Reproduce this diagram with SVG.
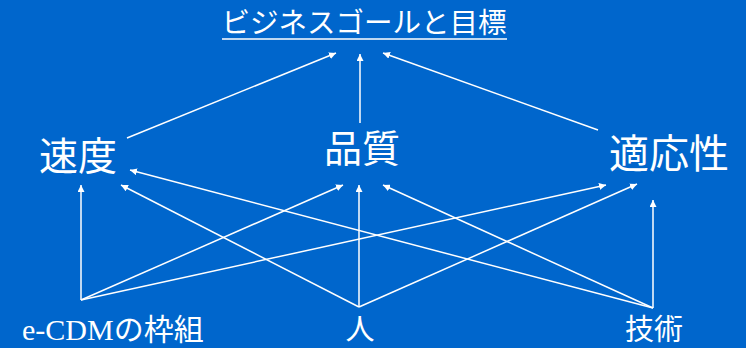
<svg xmlns="http://www.w3.org/2000/svg" width="746" height="348" viewBox="0 0 746 348">
<defs>
<marker id="ah" viewBox="0 0 10 10" refX="10" refY="5" markerWidth="7" markerHeight="7" markerUnits="userSpaceOnUse" orient="auto">
<path d="M0,0 L10,5 L0,10 z" fill="#fff"/>
</marker>
<style>
.t{fill:#fff;font-family:"Noto Sans CJK JP","Noto Sans",sans-serif;text-anchor:middle}
.s{fill:#fff;font-family:"Liberation Serif","Noto Sans CJK JP",serif}
.c line{stroke:#fff;stroke-width:1.5;marker-end:url(#ah)}
</style>
</defs>
<rect width="746" height="348" fill="#0066CC"/>
<g id="goal">
<text class="t" x="364" y="33" font-size="28.5">ビジネスゴールと目標</text>
<line x1="222" y1="39" x2="507" y2="39" stroke="#fff" stroke-width="1.5"/>
</g>
<g id="speed"><text class="t" x="78" y="170" font-size="39">速度</text></g>
<g id="quality"><text class="t" x="362" y="162" font-size="38">品質</text></g>
<g id="adapt"><text class="t" x="669" y="168" font-size="40">適応性</text></g>
<g id="ecdm"><text class="s" x="22" y="340" font-size="30">e-CDMの枠組</text></g>
<g id="people"><text class="t" x="360" y="340" font-size="29">人</text></g>
<g id="tech"><text class="t" x="654" y="340" font-size="29">技術</text></g>
<g class="c" id="connectors">
<line x1="127" y1="138" x2="336" y2="53"/>
<line x1="360" y1="123" x2="360" y2="54"/>
<line x1="598" y1="130" x2="383" y2="53"/>
<line x1="81" y1="300" x2="81" y2="185"/>
<line x1="81" y1="300" x2="343" y2="185"/>
<line x1="81" y1="300" x2="606" y2="185"/>
<line x1="359" y1="307" x2="121" y2="185"/>
<line x1="359" y1="307" x2="359" y2="185"/>
<line x1="359" y1="307" x2="637" y2="184"/>
<line x1="653" y1="308" x2="130" y2="170"/>
<line x1="653" y1="308" x2="383" y2="185"/>
<line x1="653" y1="308" x2="653" y2="200"/>
</g>
</svg>
